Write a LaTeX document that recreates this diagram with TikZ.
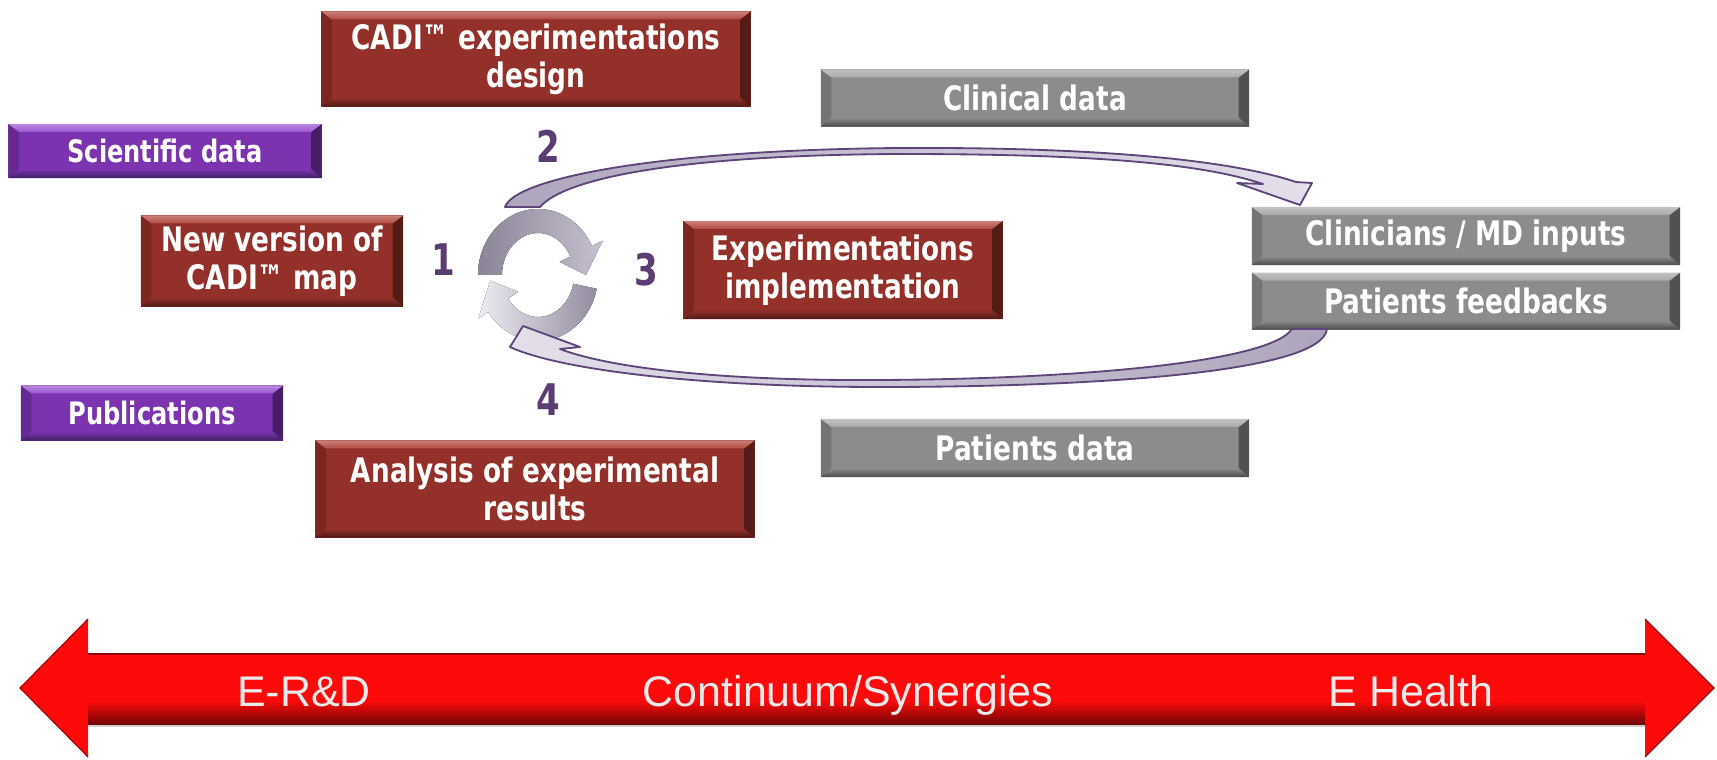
\documentclass[tikz,border=0pt]{standalone}
\usepackage{fontspec}
\newfontfamily\boxfont{DejaVu Sans}[FakeStretch=0.78]
\newfontfamily\barfont{Liberation Sans}
\usetikzlibrary{positioning}
\definecolor{cadired}{HTML}{94302A}
\definecolor{cadiredhi}{HTML}{B34A40}
\definecolor{cadiredlo}{HTML}{4E1A16}
\definecolor{cadiredsd}{HTML}{7A2621}
\definecolor{scipurple}{HTML}{7B33B0}
\definecolor{scipurplehi}{HTML}{9A55CF}
\definecolor{scipurplelo}{HTML}{3F1F62}
\definecolor{scipurplesd}{HTML}{642A92}
\definecolor{medgray}{HTML}{8C8C8C}
\definecolor{medgrayhi}{HTML}{A8A8A8}
\definecolor{medgraylo}{HTML}{4A4A4A}
\definecolor{medgraysd}{HTML}{747474}
\definecolor{numpurple}{HTML}{5B3D74}
\definecolor{loopline}{HTML}{5E4478}
\definecolor{loopdark}{HTML}{AEA5BC}
\definecolor{looplight}{HTML}{E4DFEB}
\definecolor{barred}{HTML}{FF0A0A}
\tikzset{
  bevel/.style n args={4}{fill=#1, path picture={
    \fill[#4] (path picture bounding box.north west) -- (path picture bounding box.south west)
      -- ([shift={(0.26cm,0.22cm)}]path picture bounding box.south west)
      -- ([shift={(0.26cm,-0.2cm)}]path picture bounding box.north west) -- cycle;
    \fill[#4!70!black] (path picture bounding box.north east) -- (path picture bounding box.south east)
      -- ([shift={(-0.26cm,0.22cm)}]path picture bounding box.south east)
      -- ([shift={(-0.26cm,-0.2cm)}]path picture bounding box.north east) -- cycle;
    \shade[top color=#2!70!white, bottom color=#2] (path picture bounding box.north west) -- (path picture bounding box.north east)
      -- ([shift={(-0.26cm,-0.2cm)}]path picture bounding box.north east)
      -- ([shift={(0.26cm,-0.2cm)}]path picture bounding box.north west) -- cycle;
    \shade[top color=#1, bottom color=#3] (path picture bounding box.south west) -- (path picture bounding box.south east)
      -- ([shift={(-0.26cm,0.22cm)}]path picture bounding box.south east)
      -- ([shift={(0.26cm,0.22cm)}]path picture bounding box.south west) -- cycle;
  }},
  redbox/.style={bevel={cadired}{cadiredhi}{cadiredlo}{cadiredsd}},
  purplebox/.style={bevel={scipurple}{scipurplehi}{scipurplelo}{scipurplesd},
    font=\boxfont\bfseries\fontsize{22}{26}\selectfont},
  graybox/.style={bevel={medgray}{medgrayhi}{medgraylo}{medgraysd}},
  boxtext/.style={inner sep=0pt, text=white, align=center,
    font=\boxfont\bfseries\fontsize{24}{27}\selectfont},
  num/.style={inner sep=0pt, text=numpurple, font=\boxfont\bfseries\fontsize{31}{32}\selectfont},
  looparrow/.style={draw=loopline, line width=1.3pt, line join=round},
  bartext/.style={anchor=base, inner sep=0pt, text=white!92!black,
    font=\barfont\fontsize{30.5}{34}\selectfont},
}
\begin{document}
\begin{tikzpicture}[x=0.025cm,y=-0.025cm]
  \useasboundingbox (0,0) rectangle (1717,760);
  % left column
  \node[boxtext,redbox,minimum width=10.725cm,minimum height=2.375cm] (design) at (536,59) {CADI™ experimentations\\design};
  \node[boxtext,purplebox,minimum width=7.825cm,minimum height=1.35cm] (sci) at (165,151) {Scientific data};
  \node[boxtext,redbox,minimum width=6.55cm,minimum height=2.275cm] (newmap) at (272,261) {New version of\\CADI™ map};
  \node[boxtext,purplebox,minimum width=6.55cm,minimum height=1.375cm] (pub) at (152,413) {Publications};
  \node[boxtext,redbox,minimum width=10.975cm,minimum height=2.425cm] (analysis) at (535,489) {Analysis of experimental\\results};
  \node[boxtext,redbox,minimum width=7.975cm,minimum height=2.45cm] (impl) at (843,270) {Experimentations\\implementation};
  % right column
  \node[boxtext,graybox,minimum width=10.7cm,minimum height=1.425cm] (clin) at (1035,98) {Clinical data};
  \node[boxtext,graybox,minimum width=10.7cm,minimum height=1.45cm] (mdin) at (1466,236) {Clinicians / MD inputs};
  \node[boxtext,graybox,minimum width=10.7cm,minimum height=1.425cm,below=0.175cm of mdin] (pfb) {Patients feedbacks};
  \node[boxtext,graybox,minimum width=10.7cm,minimum height=1.45cm] (pdata) at (1035,448) {Patients data};
  % step numbers
  \node[num] (n1) at (443,260) {1};
  \node[num] (n2) at (548,146) {2};
  \node[num] (n3) at (646,270) {3};
  \node[num] (n4) at (548,400) {4};
  % cycle
  \coordinate (cyc) at (538,275);
  \fill[left color=loopdark!80!black, right color=loopdark!70!white]
    ([shift={(180:60 and 66)}]cyc) arc[start angle=180,end angle=334,x radius=60,y radius=66]
    -- ([shift={(334:72 and 78)}]cyc) -- ([shift={(360:48 and 54)}]cyc)
    -- ([shift={(334:24 and 30)}]cyc) -- ([shift={(334:36 and 42)}]cyc)
    arc[start angle=334,end angle=180,x radius=36,y radius=42] -- cycle;
  \fill[left color=looplight!60!white, right color=loopdark!85!black]
    ([shift={(12:60 and 66)}]cyc) arc[start angle=12,end angle=146,x radius=60,y radius=66]
    -- ([shift={(146:72 and 78)}]cyc) -- ([shift={(174:48 and 54)}]cyc)
    -- ([shift={(146:24 and 30)}]cyc) -- ([shift={(146:36 and 42)}]cyc)
    arc[start angle=146,end angle=12,x radius=36,y radius=42] -- cycle;
  % loop to the clinicians and back
  \filldraw[looparrow, left color=loopdark, right color=looplight]
    (505,207) .. controls (515,178) and (660,150) .. (900,148)
    .. controls (1100,147) and (1230,160) .. (1296,182)
    -- (1312,183) -- (1300,205) -- (1237,183) -- (1263,184)
    .. controls (1200,163) and (1090,154) .. (900,154)
    .. controls (680,155) and (565,178) .. (540,207) -- cycle;
  \filldraw[looparrow, left color=looplight, right color=loopdark]
    (1292,329) .. controls (1270,362) and (1080,379) .. (880,380)
    .. controls (720,381) and (610,368) .. (560,349)
    -- (580,347) -- (523,326) -- (510,347)
    .. controls (560,370) and (700,387) .. (880,387)
    .. controls (1100,387) and (1322,372) .. (1327,329) -- cycle;
  % E-R&D / E Health bar
  \fill[barred] (20,688) -- (88,619) -- (88,653) -- (1645,653) -- (1645,619) -- (1714,688)
    -- (1645,757) -- (1645,724) -- (88,724) -- (88,757) -- cycle;
  \shade[top color=barred, bottom color=barred!45!black] (88,700) rectangle (1645,724);
  \draw[barred!55!black, line width=1pt] (88,654) -- (1645,654);
  \draw[gray!35, line width=1.5pt] (88,726) -- (1645,726);
  \draw[barred!60!black, line width=0.8pt] (88,619) -- (20,688) -- (88,757);
  \draw[barred!60!black, line width=0.8pt] (1645,619) -- (1714,688) -- (1645,757);
  \node[bartext] (erd) at (304,706) {E-R\&D};
  \node[bartext] (cont) at (848,706) {Continuum/Synergies};
  \node[bartext] (ehealth) at (1411,706) {E Health};
\end{tikzpicture}
\end{document}
